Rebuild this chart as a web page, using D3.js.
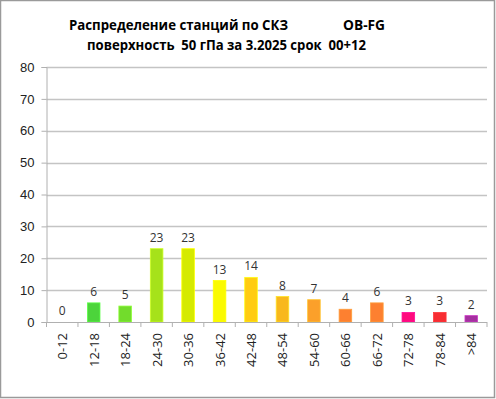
<!DOCTYPE html>
<html>
<head>
<meta charset="utf-8">
<script src="https://cdn.jsdelivr.net/npm/d3@7"></script>
<style>
  body { margin: 0; background: #fff; }
  svg { display: block; font-family: "Open Sans", "Liberation Sans", sans-serif; }
</style>
</head>
<body>
<svg id="chart" width="496" height="399"></svg>
<script>
const categories = ["0-12", "12-18", "18-24", "24-30", "30-36", "36-42", "42-48", "48-54", "54-60", "60-66", "66-72", "72-78", "78-84", ">84"];
const counts = [0, 6, 5, 23, 23, 13, 14, 8, 7, 4, 6, 3, 3, 2];
const barColors = ["#4cd43b", "#4cd43b", "#72dc2c", "#a6e21a", "#d5ea00", "#fafa00", "#ffcc11", "#f8b81c", "#fba02a", "#fd8030", "#fd8030", "#ff0a7d", "#f72d32", "#a530a0"];
const yTicks = [0, 10, 20, 30, 40, 50, 60, 70, 80];
const titleLine1 = "Распределение станций по СКЗ";
const titleTag = "OB-FG";
const titleLine2 = "поверхность  50 гПа за 3.2025 срок  00+12";

const margins = { left: 46.5, right: 9, top: 67, bottom: 77 };
const svgElement = document.getElementById("chart");
const svg = d3.select(svgElement);
const width = 496 - margins.left - margins.right;
const height = 399 - margins.top - margins.bottom;

// outer frame
svg.append("rect")
  .attr("x", 0.5).attr("y", 0.5)
  .attr("width", 494).attr("height", 397)
  .attr("fill", "#fff")
  .attr("stroke", "#9a9a9a")
  .attr("stroke-width", 1.5);

// title
svg.append("text")
  .attr("x", 69).attr("y", 30)
  .attr("font-size", 14).attr("font-weight", "bold")
  .attr("textLength", 219).attr("lengthAdjust", "spacingAndGlyphs")
  .text(titleLine1);
svg.append("text")
  .attr("x", 343).attr("y", 30)
  .attr("font-size", 14).attr("font-weight", "bold")
  .attr("textLength", 42).attr("lengthAdjust", "spacingAndGlyphs")
  .text(titleTag);
svg.append("text")
  .attr("x", 87).attr("y", 50)
  .attr("font-size", 14).attr("font-weight", "bold")
  .attr("textLength", 279).attr("lengthAdjust", "spacingAndGlyphs")
  .style("white-space", "pre")
  .text(titleLine2);

const g = svg.append("g").attr("transform", `translate(${margins.left}, ${margins.top})`);

const x = d3.scaleBand()
  .domain(categories)
  .range([0, width])
  .paddingInner(0.6)
  .paddingOuter(0.3);

const y = d3.scaleLinear()
  .domain([0, 80])
  .range([height, 0]);

// gridlines
g.append("g")
  .selectAll("line")
  .data(yTicks.filter((d) => d > 0))
  .join("line")
  .attr("x1", 0).attr("x2", width)
  .attr("y1", (d) => Math.round(y(d)) + 0.5)
  .attr("y2", (d) => Math.round(y(d)) + 0.5)
  .attr("stroke", "#c4c4c4")
  .attr("stroke-width", 1.3);

// y axis
const yAxis = g.append("g")
  .call(d3.axisLeft(y).tickValues(yTicks).tickSize(5).tickPadding(7));
yAxis.select(".domain").attr("stroke", "#b0b0b0");
yAxis.selectAll(".tick line").attr("stroke", "#b0b0b0");
yAxis.selectAll(".tick text").attr("font-size", 13).attr("fill", "#222");

// bars
g.append("g")
  .selectAll("rect")
  .data(counts)
  .join("rect")
  .attr("x", (d, i) => x(categories[i]))
  .attr("y", (d) => y(d))
  .attr("width", x.bandwidth())
  .attr("height", (d) => y(0) - y(d))
  .attr("fill", (d, i) => barColors[i])
  .attr("stroke", (d, i) => d3.color(barColors[i]).brighter(0.6))
  .attr("stroke-width", 0.8)
  .attr("opacity", (d) => (d > 0 ? 1 : 0));

// value labels
g.append("g")
  .selectAll("text")
  .data(counts)
  .join("text")
  .attr("x", (d, i) => x(categories[i]) + x.bandwidth() / 2)
  .attr("y", (d) => y(d) - 7)
  .attr("text-anchor", "middle")
  .attr("font-size", 12)
  .attr("fill", "#333")
  .text((d) => d);

// x axis
const step = width / categories.length;
const xAxis = g.append("g").attr("transform", `translate(0, ${height})`);
xAxis.append("line")
  .attr("x1", 0).attr("x2", width)
  .attr("y1", 0.5).attr("y2", 0.5)
  .attr("stroke", "#b0b0b0");
xAxis.selectAll(".xtick")
  .data(d3.range(categories.length + 1))
  .join("line")
  .attr("class", "xtick")
  .attr("x1", (d) => d * step).attr("x2", (d) => d * step)
  .attr("y1", 0).attr("y2", 5)
  .attr("stroke", "#b0b0b0");
xAxis.selectAll(".xlabel")
  .data(categories)
  .join("text")
  .attr("class", "xlabel")
  .attr("transform", (d) => `translate(${x(d) + x.bandwidth() / 2 + 5}, 11) rotate(-90)`)
  .attr("text-anchor", "end")
  .attr("font-size", 13)
  .attr("fill", "#222")
  .text((d) => d);
</script>
</body>
</html>
